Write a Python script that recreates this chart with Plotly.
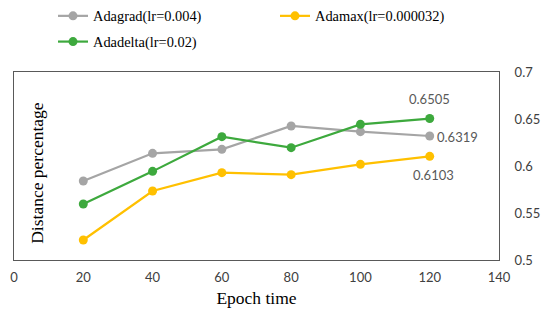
import plotly.graph_objects as go

epochs = [20, 40, 60, 80, 100, 120]
adagrad = [0.584, 0.6135, 0.6177, 0.6426, 0.6365, 0.6319]
adamax = [0.5213, 0.5734, 0.5929, 0.5908, 0.6018, 0.6103]
adadelta = [0.5596, 0.5943, 0.6312, 0.6195, 0.6443, 0.6505]
x_ticks = [0, 20, 40, 60, 80, 100, 120, 140]
y_ticks = [0.5, 0.55, 0.6, 0.65, 0.7]

GRAY = "#A5A5A5"
YELLOW = "#FFC000"
GREEN = "#3DA93D"
serif = "Liberation Serif"
sans = "Lato"

# page body has an 8px margin, so the figure is laid out 8px smaller
W, H = 542, 315
PLOT_H = 188

fig = go.Figure()

def add(name, ys, color, legend):
    fig.add_trace(go.Scatter(
        x=epochs, y=ys, name=name, mode="lines+markers",
        line=dict(color=color, width=2.2),
        marker=dict(color=color, size=9),
        legend=legend, legendgroup=name,
    ))

add("Adagrad(lr=0.004)", adagrad, GRAY, "legend")
add("Adadelta(lr=0.02)", adadelta, GREEN, "legend")
add("Adamax(lr=0.000032)", adamax, YELLOW, "legend2")

lab = dict(family=sans, size=13, color="#595959")
fig.add_annotation(x=epochs[-1], y=adadelta[-1], text=f"{adadelta[-1]:.4f}", showarrow=False,
                   xanchor="center", yshift=20, font=lab)
fig.add_annotation(x=epochs[-1], y=adagrad[-1], text=f"{adagrad[-1]:.4f}", showarrow=False,
                   xanchor="left", xshift=5, yshift=-1, font=lab)
fig.add_annotation(x=epochs[-1], y=adamax[-1], text=f"{adamax[-1]:.4f}", showarrow=False,
                   xanchor="center", xshift=4, yshift=-19, font=lab)

# y-axis title inside the plot area
fig.add_annotation(xref="paper", yref="paper", x=0.047, y=0.5 - 7 / PLOT_H,
                   xanchor="center", yanchor="middle",
                   text="Distance percentage", textangle=-90, showarrow=False,
                   font=dict(family=serif, size=17.5, color="black"))

legfont = dict(family=serif, size=14.4, color="black")
leg_y = 1 + (64 + 8) / PLOT_H
fig.update_layout(
    width=W, height=H,
    margin=dict(l=6, r=51, t=64, b=63, autoexpand=False),
    paper_bgcolor="white", plot_bgcolor="white",
    font=dict(family=sans, size=12, color="#595959"),
    legend=dict(xref="container", yref="paper", x=45/W, y=leg_y,
                xanchor="left", yanchor="top", orientation="v",
                font=legfont, bgcolor="rgba(0,0,0,0)", tracegroupgap=4, itemwidth=30),
    legend2=dict(xref="container", yref="paper", x=267/W, y=leg_y,
                 xanchor="left", yanchor="top", orientation="v",
                 font=legfont, bgcolor="rgba(0,0,0,0)", itemwidth=30),
    xaxis=dict(range=[0, 140], tickvals=x_ticks, showgrid=False, zeroline=False,
               showline=True, linecolor="#595959", linewidth=1, mirror=True,
               ticks="", ticklabelstandoff=5, tickfont=dict(family=sans, size=13, color="#404040"),
               automargin=False, ticklabeloverflow="allow",
               title=dict(text="Epoch time", font=dict(family=serif, size=17.5, color="black"), standoff=8)),
    yaxis=dict(range=[0.5, 0.7], tickvals=y_ticks, ticktext=["0.5", "0.55", "0.6", "0.65", "0.7"],
               side="right", showgrid=False, zeroline=False, automargin=False,
               showline=True, linecolor="#595959", linewidth=1, mirror=True,
               ticks="", ticklabelstandoff=12, ticklabeloverflow="allow",
               tickfont=dict(family=sans, size=13, color="#404040")),
    showlegend=True,
)

fig.write_html("out.html")
